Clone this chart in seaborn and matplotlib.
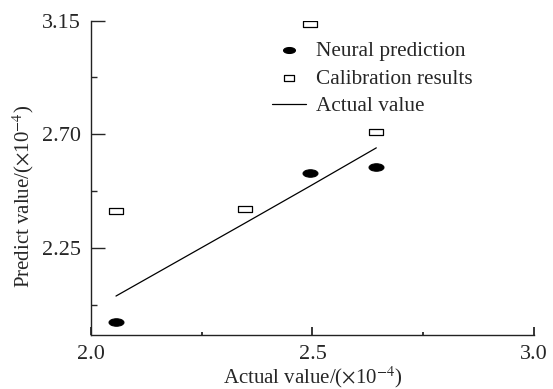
import matplotlib
matplotlib.use("Agg")
import matplotlib.pyplot as plt
from matplotlib.path import Path
from matplotlib.transforms import Affine2D
from matplotlib.ticker import FixedLocator
import seaborn as sns
import pandas as pd

# Data
actual_x = [2.057, 2.347, 2.494, 2.644]
actual_y = [2.059, 2.347, 2.494, 2.646]
neural_x = [2.057, 2.494, 2.644]
neural_y = [1.957, 2.548, 2.570]
calib_x = [2.057, 2.347, 2.494, 2.644]
calib_y = [2.394, 2.405, 3.137, 2.707]
x_ticks = [2.0, 2.5, 3.0]
x_ticklabels = ["2.0", "2.5", "3.0"]
y_ticks = [2.25, 2.70, 3.15]
y_ticklabels = ["2.25", "2.70", "3.15"]

sns.set_style("ticks")
plt.rcParams["font.family"] = ["Liberation Serif", "DejaVu Serif"]
plt.rcParams["mathtext.fontset"] = "stix"

fig = plt.figure(figsize=(5.53, 3.89), dpi=100)
ax = fig.add_axes([0.164, 0.139, 0.802, 0.808])

ellipse = Path.unit_circle().transformed(Affine2D().scale(1.0, 0.5))
rect = Path([(-1, -0.5), (1, -0.5), (1, 0.5), (-1, 0.5), (-1, -0.5)],
            [Path.MOVETO, Path.LINETO, Path.LINETO, Path.LINETO, Path.CLOSEPOLY])

df_n = pd.DataFrame({"x": neural_x, "y": neural_y})
df_c = pd.DataFrame({"x": calib_x, "y": calib_y})
df_a = pd.DataFrame({"x": actual_x, "y": actual_y})

sns.scatterplot(data=df_n, x="x", y="y", marker=ellipse, s=115, color="black",
                edgecolor="black", linewidth=0.8, label="Neural prediction", ax=ax, zorder=3)
sns.scatterplot(data=df_c, x="x", y="y", marker=rect, s=95, facecolor="white",
                edgecolor="black", linewidth=0.9, label="Calibration results", ax=ax, zorder=3)
sns.lineplot(data=df_a, x="x", y="y", color="black", linewidth=0.9,
             label="Actual value", ax=ax, zorder=2)

ax.set_xlim(2.0, 3.0)
ax.set_ylim(1.905, 3.15)
ax.xaxis.set_major_locator(FixedLocator(x_ticks))
ax.xaxis.set_minor_locator(FixedLocator([2.25, 2.75]))
ax.yaxis.set_major_locator(FixedLocator(y_ticks))
ax.yaxis.set_minor_locator(FixedLocator([2.025, 2.475, 2.925]))
ax.set_xticklabels(x_ticklabels)
ax.set_yticklabels(y_ticklabels)

for s in ["top", "right"]:
    ax.spines[s].set_visible(False)
for s in ["left", "bottom"]:
    ax.spines[s].set_linewidth(1.0)
    ax.spines[s].set_color("#222222")

ax.tick_params(axis="y", which="major", direction="in", length=10, width=1.0, labelsize=16, pad=7)
ax.tick_params(axis="y", which="minor", direction="in", length=4, width=1.0)
ax.tick_params(axis="x", which="major", direction="in", length=6, width=1.3, labelsize=16, pad=7)
ax.tick_params(axis="x", which="minor", direction="in", length=2.5, width=1.3)

ax.set_xlabel(r"Actual value/($\times$10$^{-4}$)", fontsize=15)
ax.set_ylabel(r"Predict value/($\times$10$^{-4}$)", fontsize=15)
ax.xaxis.set_label_coords(0.5, -0.094)
ax.yaxis.set_label_coords(-0.123, 0.440)

leg = ax.legend(loc="upper left", bbox_to_anchor=(272 / 553, 1 - 41 / 389),
                bbox_transform=fig.transFigure, frameon=False, fontsize=15.3,
                handlelength=1.6, handletextpad=0.45, labelspacing=0.37,
                borderpad=0, borderaxespad=0, markerscale=0.8)

fig.savefig("out.png", dpi=100)
